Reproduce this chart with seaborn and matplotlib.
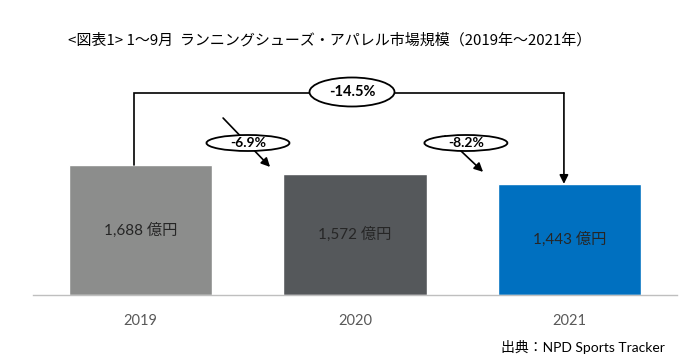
import matplotlib
matplotlib.use("Agg")
import matplotlib.pyplot as plt
from matplotlib.patches import Ellipse
import seaborn as sns
import pandas as pd

# データ
years = ["2019", "2020", "2021"]
sales = [1688, 1572, 1443]
bar_labels = ["1,688 億円", "1,572 億円", "1,443 億円"]
colors = ["#8c8d8c", "#55585b", "#0070c0"]
yoy_labels = ["-6.9%", "-8.2%"]
total_label = "-14.5%"
title = "<図表1> 1～9月  ランニングシューズ・アパレル市場規模（2019年～2021年）"
source = "出典：NPD Sports Tracker"

sns.set_theme(style="white")
plt.rcParams['font.family'] = ['Lato', 'Noto Sans CJK JP', 'DejaVu Sans']

df = pd.DataFrame({"year": years, "sales": sales})

fig = plt.figure(figsize=(6.8, 3.61), dpi=100)
ax = fig.add_axes([33.25 / 680, 66 / 361, 643.5 / 680, 295 / 361])

sns.barplot(data=df, x="year", y="sales", hue="year", palette=colors,
            width=0.667, legend=False, ax=ax, saturation=1)

ax.set_xlim(-0.5, 2.5)
ypx = 1688 / 130  # 1ピクセルあたりのデータ単位
ax.set_ylim(0, 295 * ypx)

sns.despine(ax=ax, left=True, top=True, right=True)
ax.spines['bottom'].set_color('#bfbfbf')
ax.spines['bottom'].set_linewidth(1.0)
ax.set_yticks([])
ax.set_xlabel("")
ax.set_ylabel("")
ax.tick_params(axis='x', length=0, pad=14, labelsize=10.5, labelcolor='#595959')

# 棒の中のラベル
for i, (v, lab) in enumerate(zip(sales, bar_labels)):
    ax.text(i, v / 2, lab, ha='center', va='center', fontsize=11, color='#262626')

# 前年比の矢印と楕円
arrow_dx = [(0.385, 0.604), (0.42, 0.597)]
arrow_dy = [(47, 7), (38, 12)]
ell_x = [0.501, 0.517]
for i, lab in enumerate(yoy_labels):
    x0, x1 = i + arrow_dx[i][0], i + arrow_dx[i][1]
    y0 = sales[i] + arrow_dy[i][0] * ypx
    y1 = sales[i + 1] + arrow_dy[i][1] * ypx
    ax.annotate("", xy=(x1, y1), xytext=(x0, y0),
                arrowprops=dict(arrowstyle='-|>', color='black', lw=1.2,
                                mutation_scale=13, shrinkA=0, shrinkB=0))
    cx, cy = i + ell_x[i], sales[0] + 22 * ypx
    ax.add_patch(Ellipse((cx, cy), 83 / 214.5, 16 * ypx, facecolor='white',
                         edgecolor='black', lw=1.3, zorder=3))
    ax.text(cx, cy, lab, ha='center', va='center', fontsize=10,
            fontweight='bold', color='black', zorder=4)

# 2019→2021 の括弧線
top_y = sales[0] + 72 * ypx
lx, rx = -0.03, 1.974
ax.plot([lx, lx, rx], [sales[0], top_y, top_y], color='black', lw=1.2,
        solid_joinstyle='miter')
ax.annotate("", xy=(rx, sales[2]), xytext=(rx, top_y),
            arrowprops=dict(arrowstyle='-|>', color='black', lw=1.2,
                            mutation_scale=13, shrinkA=0, shrinkB=0))
ax.add_patch(Ellipse((0.986, top_y + ypx), 85 / 214.5, 29 * ypx, facecolor='white',
                     edgecolor='black', lw=1.3, zorder=3))
ax.text(0.986, top_y + ypx, total_label, ha='center', va='center', fontsize=10.5,
        fontweight='bold', color='black', zorder=4)

fig.text(0.4846, 1 - 40 / 361, title, ha='center', va='center',
         fontsize=10.8, color='black', family=['Noto Sans CJK JP', 'DejaVu Sans'])
fig.text(0.978, 1 - 347 / 361, source, ha='right', va='center',
         fontsize=10, color='black')

fig.savefig("out.png", dpi=100)
